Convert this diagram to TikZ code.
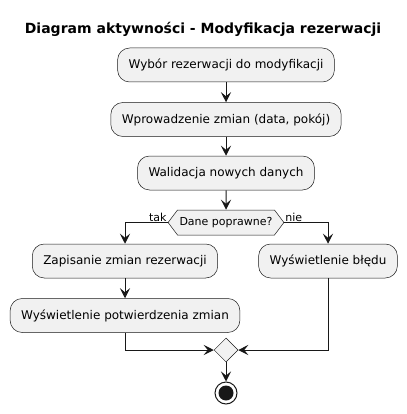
\documentclass[tikz,border=0pt]{standalone}
\usepackage{fontspec}
\setmainfont{DejaVu Sans}
\usetikzlibrary{arrows.meta,shapes.geometric,shapes.symbols}
\definecolor{boxfill}{HTML}{F1F1F1}
\definecolor{linec}{HTML}{181818}
\tikzset{
  act/.style={draw=linec, fill=boxfill, rounded corners=12pt, line width=0.5pt,
    minimum height=34pt, inner xsep=11pt, inner ysep=0pt, text=black,
    font=\fontsize{12}{14}\selectfont},
  flow/.style={draw=linec, line width=1pt, -{Stealth[length=10pt,width=10pt,inset=4pt]}},
  decis/.style={draw=linec, fill=boxfill, line width=0.5pt, signal, signal to=west and east,
    signal pointer angle=106, minimum height=25pt, inner xsep=2pt, inner ysep=0pt,
    font=\fontsize{11}{13}\selectfont},
  merge/.style={draw=linec, fill=boxfill, line width=0.5pt, diamond, minimum size=24pt,
    inner sep=0pt},
  lbl/.style={font=\fontsize{11}{13}\selectfont, inner sep=1pt},
}
\begin{document}
\begin{tikzpicture}[x=1pt,y=-1pt]
\useasboundingbox (0,0) rectangle (406,414);
\node (title) at (203,29) {\fontsize{14}{16}\selectfont\bfseries Diagram aktywności - Modyfikacja rezerwacji};
\node[act] (b1) at (226,65) {Wybór rezerwacji do modyfikacji};
\node[act] (b2) at (226,119.5) {Wprowadzenie zmian (data, pokój)};
\node[act] (b3) at (226,173) {Walidacja nowych danych};
\node[decis] (dec) at (226,222.5) {Dane poprawne?};
\node[act] (b4) at (125,261) {Zapisanie zmian rezerwacji};
\node[act] (b5) at (328,261) {Wyświetlenie błędu};
\node[act] (b6) at (125,315.5) {Wyświetlenie potwierdzenia zmian};
\node[merge] (mg) at (226,350) {};
\node[circle, draw=linec, line width=1pt, fill=white, minimum size=22pt, inner sep=0pt] (end) at (226,393) {};
\fill[linec] (end.center) circle (7.5pt);
\draw[flow] (b1) -- (b2);
\draw[flow] (b2) -- (b3);
\draw[flow] (b3) -- (dec);
\draw[flow] (dec.west) -| (b4.north);
\draw[flow] (dec.east) -| (b5.north);
\node[lbl, anchor=south east] (ltak) at (dec.west) {tak};
\node[lbl, anchor=south west] (lnie) at (dec.east) {nie};
\draw[flow] (b4) -- (b6);
\draw[flow] (b6.south) |- (mg.west);
\draw[flow] (b5.south) |- (mg.east);
\draw[flow] (mg.south) -- (end.north);
\end{tikzpicture}
\end{document}
